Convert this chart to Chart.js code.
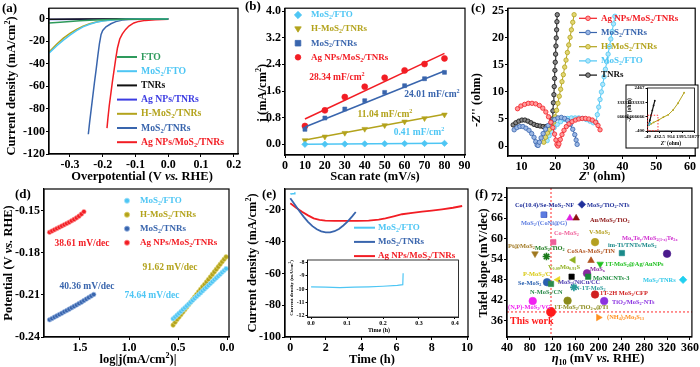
<!DOCTYPE html>
<html>
<head>
<meta charset="utf-8">
<script src="https://cdn.jsdelivr.net/npm/chart.js@4.4.1/dist/chart.umd.min.js"></script>
<style>
  html, body { margin: 0; padding: 0; background: #fff; }
  #page { position: relative; width: 700px; height: 367px; overflow: hidden; background: #fff; }
  #page canvas { position: absolute; left: 0; top: 0; }
</style>
</head>
<body>
<div id="page">
  <canvas id="chartA" width="700" height="367"></canvas>
  <canvas id="chartB" width="700" height="367"></canvas>
  <canvas id="chartC" width="700" height="367"></canvas>
  <canvas id="chartD" width="700" height="367"></canvas>
  <canvas id="chartE" width="700" height="367"></canvas>
  <canvas id="chartF" width="700" height="367"></canvas>
  <canvas id="insetC" width="700" height="367"></canvas>
  <canvas id="insetE" width="700" height="367"></canvas>
</div>
<script>
// ---------- (a) LSV curves: [overpotential (V), current density (mA/cm2)]
const lsvFto = [[-0.364,-3.9],[-0.33,-3.1],[-0.30,-2.4],[-0.27,-1.8],[-0.24,-1.3],[-0.20,-0.9],[-0.15,-0.6],[-0.10,-0.4],[-0.05,-0.3],[0,-0.2]];
const lsvMosFto = [[-0.364,-30.5],[-0.34,-24],[-0.32,-19],[-0.30,-14.5],[-0.28,-10.5],[-0.26,-7.3],[-0.24,-5],[-0.22,-3.2],[-0.20,-2],[-0.17,-1.1],[-0.13,-0.6],[-0.08,-0.3],[0,-0.1]];
const lsvTnrs = [[-0.364,-0.4],[-0.25,-0.3],[-0.10,-0.2],[0,-0.1]];
const lsvAgTnrs = [[-0.364,-0.7],[-0.25,-0.5],[-0.10,-0.3],[0,-0.2]];
const lsvHMos = [[-0.364,-29.5],[-0.34,-22.5],[-0.32,-17.3],[-0.30,-13],[-0.28,-9.5],[-0.26,-6.6],[-0.24,-4.5],[-0.22,-3],[-0.20,-1.9],[-0.17,-1.0],[-0.13,-0.5],[-0.08,-0.3],[0,-0.1]];
const lsvMosTnrs = [[0,-0.3],[-0.08,-0.5],[-0.12,-0.8],[-0.14,-1.1],[-0.16,-2.6],[-0.175,-4.5],[-0.19,-7.2],[-0.20,-10.5],[-0.205,-14],[-0.21,-22],[-0.215,-33],[-0.22,-45],[-0.225,-56],[-0.23,-68],[-0.235,-80],[-0.24,-92],[-0.244,-102.5]];
const lsvAgMosTnrs = [[0,-0.6],[-0.04,-0.9],[-0.07,-1.5],[-0.09,-2.4],[-0.105,-3.8],[-0.12,-6.5],[-0.13,-9.5],[-0.14,-13.5],[-0.148,-18],[-0.155,-26],[-0.16,-35],[-0.165,-45],[-0.17,-55],[-0.175,-66],[-0.18,-77],[-0.184,-88],[-0.187,-97]];

// ---------- (b) double-layer capacitance
const scanRates = [10, 20, 30, 40, 50, 60, 70, 80];
const jMosFto = [0.00, 0.005, 0.01, 0.014, 0.018, 0.022, 0.026, 0.03];
const jHMos = [0.12, 0.23, 0.34, 0.46, 0.57, 0.68, 0.78, 0.89];
const jMosTnrs = [0.45, 0.79, 1.06, 1.31, 1.56, 1.76, 1.97, 2.16];
const jAgMosTnrs = [0.55, 1.02, 1.42, 1.73, 2.00, 2.22, 2.41, 2.58];
const fitRates = [10, 80];
const fitMosFto = [0.002, 0.031];
const fitHMos = [0.13, 0.90];
const fitMosTnrs = [0.52, 2.20];
const fitAgMosTnrs = [0.76, 2.73];
const cdlLabels = ['28.34 mF/cm^{2}', '24.01 mF/cm^{2}', '11.04 mF/cm^{2}', '0.41 mF/cm^{2}'];

// ---------- (c) Nyquist plots: [Z' (ohm), -Z'' (ohm)]
const eisAg = [[8.8,6.9],[9.8,7.4],[10.9,7.7],[12.0,7.9],[13.1,7.9],[14.2,7.8],[15.3,7.5],[16.3,7.0],[17.2,6.3],[18.0,5.4],[18.7,4.4],[19.3,3.4],[19.8,2.2],[20.2,1.1],[20.5,0.3],[20.8,0.0],[21.1,0.4],[21.5,1.2],[22.0,2.1],[22.6,2.9],[23.3,3.6],[24.1,4.1],[25.0,4.5],[26.0,4.8],[27.0,5.0],[28.0,5.1],[29.0,5.1],[30.0,5.0],[31.0,4.8],[32.0,4.4],[32.7,3.8],[33.3,3.0]];
const eisMos = [[7.8,3.0],[8.6,3.4],[9.5,3.6],[10.4,3.6],[11.3,3.3],[12.2,2.9],[13.0,2.3],[13.7,1.6],[14.2,0.8],[14.6,0.2],[14.9,0.1],[15.3,0.7],[15.8,1.5],[16.4,2.3],[17.1,3.1],[17.9,3.8],[18.8,4.4],[19.8,4.9],[20.8,5.2],[21.8,5.3],[22.8,5.1],[23.7,4.7],[24.5,4.0],[25.2,3.1],[25.8,2.1],[26.2,1.1],[26.5,0.3]];
const eisHMos = [[16.6,0.7],[17.1,1.6],[17.7,2.4],[18.3,3.1],[18.9,3.7],[19.5,4.4],[20.0,5.4],[20.4,6.6],[20.8,7.9],[21.2,9.2],[21.6,10.5],[22.0,11.9],[22.4,13.2],[22.8,14.6],[23.2,15.9],[23.6,17.3],[24.0,18.7],[24.4,20.1],[24.8,21.5],[25.2,22.9],[25.6,24.3]];
const eisMosFto = [[17.6,1.0],[18.2,1.9],[18.9,2.7],[19.7,3.4],[20.6,4.0],[21.6,4.5],[22.6,4.9],[23.7,5.1],[24.8,5.2],[25.9,5.2],[27.0,5.2],[28.1,5.1],[29.2,4.9],[30.3,4.6],[31.3,4.3],[32.1,4.4],[32.5,5.8],[32.9,7.2],[33.3,8.6],[33.7,10.0],[34.1,11.4],[34.5,12.8],[34.9,14.2],[35.3,15.6],[35.7,17.0],[36.1,18.4],[36.5,19.8],[36.9,21.2],[37.3,22.6],[37.7,24.0]];
const eisTnrs = [[7.5,3.9],[8.3,4.3],[9.2,4.6],[10.1,4.8],[11.0,4.8],[11.9,4.6],[12.8,4.3],[13.7,4.0],[14.6,3.8],[15.5,3.7],[16.4,3.6],[17.3,3.6],[18.2,3.6],[18.8,3.9],[19.1,5.0],[19.3,6.5],[19.45,8.0],[19.6,9.5],[19.7,11.0],[19.8,12.5],[19.9,14.0],[20.0,15.5],[20.1,17.0],[20.2,18.5],[20.3,20.0],[20.4,21.5],[20.5,23.0],[20.6,24.3]];
// inset of (c), wide range
const eisWideTnrs = [[0,0],[50,330],[100,650],[150,980],[200,1300],[250,1620]];
const eisWideHMos = [[0,0],[100,80],[200,170],[400,330],[600,520],[800,680],[1000,1000],[1200,1450],[1450,2150]];
const eisWideMosFto = [[0,0],[20,40],[40,90],[60,160]];

// ---------- (d) Tafel plots: log|j| and potential (V vs. RHE)
const tafAgX = [1.81,1.785,1.76,1.735,1.71,1.685,1.66,1.635,1.61,1.585,1.56,1.535,1.51,1.485,1.46];
const tafAgY = [-0.1652,-0.1643,-0.1634,-0.1625,-0.1616,-0.1607,-0.1598,-0.1589,-0.1580,-0.1570,-0.1560,-0.1549,-0.1537,-0.1522,-0.1505];
const tafMosX = [1.81,1.785,1.76,1.735,1.71,1.685,1.66,1.635,1.61,1.585,1.56,1.535,1.51,1.485,1.46,1.435,1.41,1.385,1.36];
const tafMosY = [-0.2277,-0.2268,-0.2258,-0.2249,-0.2239,-0.2230,-0.2220,-0.2211,-0.2201,-0.2191,-0.2181,-0.2171,-0.2161,-0.2151,-0.2140,-0.2129,-0.2118,-0.2107,-0.2096];
const tafLowX = [0.55,0.53,0.51,0.49,0.47,0.45,0.43,0.41,0.39,0.37,0.35,0.33,0.31,0.29,0.27,0.25,0.23,0.21,0.19,0.17,0.15,0.13,0.11,0.09,0.07,0.05,0.03,0.01];
const tafHMosY = [-0.2315,-0.2295,-0.2275,-0.2258,-0.2240,-0.2222,-0.2204,-0.2186,-0.2168,-0.2150,-0.2132,-0.2114,-0.2096,-0.2078,-0.2060,-0.2042,-0.2025,-0.2007,-0.1989,-0.1971,-0.1953,-0.1935,-0.1917,-0.1899,-0.1881,-0.1863,-0.1845,-0.1828];
const tafFtoY = [-0.2270,-0.2257,-0.2244,-0.2231,-0.2218,-0.2204,-0.2191,-0.2178,-0.2164,-0.2151,-0.2138,-0.2124,-0.2111,-0.2098,-0.2085,-0.2071,-0.2058,-0.2045,-0.2031,-0.2018,-0.2005,-0.1991,-0.1978,-0.1965,-0.1952,-0.1938,-0.1925,-0.1912];
const tafLabels = ['38.61 mV/dec', '91.62 mV/dec', '40.36 mV/dec', '74.64 mV/dec'];

// ---------- (e) stability: time (h), current density (mA/cm2)
const stabFtoT = [0, 0.04, 0.08, 0.12, 0.16, 0.20, 0.24, 0.255, 0.256];
const stabFtoJ = [-9.82, -9.84, -9.88, -9.85, -9.82, -9.78, -9.72, -9.66, -8.8];
const stabMosT = [0, 0.25, 0.5, 0.75, 1.0, 1.25, 1.5, 1.75, 2.0, 2.25, 2.5, 2.75, 3.0, 3.25, 3.5, 3.7];
const stabMosJ = [-12.6, -16.5, -20.5, -24.2, -27.5, -30.2, -32.2, -33.5, -34.1, -34.1, -33.4, -32.0, -29.8, -27.2, -24.0, -21.3];
const stabAgT = [0, 0.33, 0.66, 1.0, 1.32, 1.65, 1.98, 2.5, 3.1, 3.8, 4.43, 5.0, 5.38, 5.85, 6.32, 6.9, 7.45, 8.0, 8.58, 9.2, 9.72];
const stabAgJ = [-15.8, -18.6, -21.1, -23.4, -25.3, -26.2, -26.7, -26.9, -26.9, -26.9, -26.7, -26.1, -25.3, -24.0, -22.7, -21.8, -21.1, -20.4, -19.6, -18.6, -17.5];

// ---------- (f) literature comparison: eta10 (mV) and Tafel slope (mV/dec)
const refNames = ['Co(10.4)/Se-MoS_{2}-NF','MoS_{2}/(CoNi@G)','MoS_{2}/TiO_{2}-NTs','','Au/MoS_{2}/TiO_{2}','Co-MoS_{2}','V-MoS_{2}','Mo_{x}Te_{y}/MoS_{2(1-x)}Te_{2x}','im-Ti/TNTs/MoS_{2}','Pt@MoS_{2}','MoS_{2}/TiO_{2}','CoSAs-MoS_{2}/TiN','V_{0.09}Mo_{0.91}S','1T-MoS_{2}@Ag/AuNPs','MoS_{x}','MoNiCNTs-3','P-MoS_{2}/C','MoS_{2}/NiCu/CC','Se-MoS_{2}','N-MoS_{2}/CN','N-1T-MoS_{2}','MoS_{2}/TNRs','1T-2H MoS_{2}/CFP','TiO_{2}/MoS_{2}-NTs','(N,P)-MoS_{2}/VG','1T-MoS_{2}/TiO_{2-x}@Ti','This work','(NH_{4})_{2}Mo_{3}S_{13}'];
const refEta = [105, 104, 171, 150, 161, 121, 194, 320, 241, 89, 109, 187, 156, 203, 180, 182, 129, 153, 110, 117, 157, 348, 194, 210, 85, 146, 117, 200];
const refTafel = [67, 67, 70, 66, 66, 59, 59, 55.6, 55.8, 55.6, 54.8, 53.6, 53.8, 52.6, 49.9, 48.9, 48, 48.9, 47.3, 46.8, 45.8, 48, 43.7, 41.8, 41.8, 41.9, 38.61, 37];
const thisWork = { eta: 117, tafel: 38.61 };

// ---------- styling
const FONT = '"Liberation Serif", "Times New Roman", serif';
const W = 700, H = 367;
const C = { red: '#f21d24', blue: '#3965ad', olive: '#b3a31c', cyan: '#4ec6f4', green: '#2e9a5c', black: '#111111', violet: '#3c3ce2' };
const LIGHT = { red: '#ff9a9a', blue: '#9cb8e4', olive: '#e2d674', cyan: '#b0e6fa', black: '#888888' };

const refStyle = ['rect','rect','rectRot','triangle','triangle','rect','circle','circle','rect','triangle','star','triangle','triangle','triangle','circle','rect','triangle','rect','circle','rect','star','rectRot','circle','circle','circle','circle','circle','triangle'];
const refRot = [0,0,0,0,0,0,0,0,0,180,0,0,270,180,0,0,270,0,0,0,0,0,0,0,0,0,0,90];
const refColor = ['#1f2f9a','#5b7be0','#1f2f9a','#e020e0','#8b1010','#f0609a','#b5a020','#4a1a8c','#1a8a8a','#a07820','#1a7a1a','#b0521d','#90b020','#20c020','#8a2aa0','#1a8a3a','#e8d820','#000000','#2a60b0','#2a8a4a','#2a9a9a','#20d0f0','#d02020','#8a30e0','#f020f0','#8a8a1a','#ff1a1a','#ff9020'];
const refLabelColor = ['#1f2f9a','#5b7be0','#1f2f9a','','#8b1010','#f0609a','#b5a020','#d030d0','#1a8a8a','#a07820','#1a7a1a','#b0521d','#90b020','#20c020','#8a2aa0','#1a8a3a','#d8c810','#4a3ab0','#2a60b0','#2a8a4a','#2a9a9a','#30c8e8','#d02020','#8a30e0','#f020f0','#8a8a1a','#ff1a1a','#ff9020'];
const refLabelAt = [[515,205],[521,223.5],[587,205],null,[590,220.5],[554,233.5],[589,232.5],[622,238],[608,245],[508,246.5],[535,248.5],[567,251],[548,267.5],[605,264.5],[590,269.5],[593,278],[523,274],[558,282.5],[518,283.5],[530,292.5],[575,288],[643,280],[600,293.5],[612,302.5],[508,307.5],[554,307.5],[510,321],[607,317]];

// ---------- helpers
const pairs = arr => arr.map(([x, y]) => ({ x, y }));
const xy = (xs, ys) => xs.map((x, i) => ({ x, y: ys[i] }));
const zero = v => (Math.abs(v) < 1e-9 ? 0 : v);
const fix = n => v => zero(v).toFixed(n);

// tiny markup: _{sub} ^{sup} ~italic~
function parse(s) {
  const out = []; let buf = '', italic = false, i = 0;
  const push = (t, mode) => { if (t) out.push({ t, mode, it: italic }); };
  while (i < s.length) {
    const c = s[i];
    if ((c === '_' || c === '^') && s[i + 1] === '{') {
      push(buf, 0); buf = '';
      const j = s.indexOf('}', i);
      push(s.slice(i + 2, j), c === '_' ? 1 : 2);
      i = j + 1;
    } else if (c === '~') { push(buf, 0); buf = ''; italic = !italic; i++; }
    else { buf += c; i++; }
  }
  push(buf, 0);
  return out;
}

function rich(ctx, s, x, y, size, color, align = 'left', rot = 0) {
  const parts = parse(s);
  const fontOf = p => `${p.it ? 'italic ' : ''}bold ${p.mode ? size * 0.65 : size}px ${FONT}`;
  let w = 0;
  parts.forEach(p => { ctx.font = fontOf(p); p.w = ctx.measureText(p.t).width; w += p.w; });
  ctx.save();
  ctx.translate(x, y); ctx.rotate(rot);
  ctx.fillStyle = color; ctx.textBaseline = 'middle'; ctx.textAlign = 'left';
  let cx = align === 'center' ? -w / 2 : align === 'right' ? -w : 0;
  parts.forEach(p => {
    ctx.font = fontOf(p);
    ctx.fillText(p.t, cx, p.mode === 1 ? size * 0.3 : p.mode === 2 ? -size * 0.35 : 0);
    cx += p.w;
  });
  ctx.restore();
}

function mark(ctx, style, x, y, r, fill, stroke) {
  ctx.save();
  ctx.fillStyle = fill; ctx.strokeStyle = stroke; ctx.lineWidth = 0.8;
  ctx.beginPath();
  if (style === 'rect') ctx.rect(x - r, y - r, 2 * r, 2 * r);
  else if (style === 'rectRot') { ctx.moveTo(x, y - r * 1.3); ctx.lineTo(x + r * 1.3, y); ctx.lineTo(x, y + r * 1.3); ctx.lineTo(x - r * 1.3, y); ctx.closePath(); }
  else if (style === 'tridown') { ctx.moveTo(x - r * 1.15, y - r * 0.8); ctx.lineTo(x + r * 1.15, y - r * 0.8); ctx.lineTo(x, y + r * 1.1); ctx.closePath(); }
  else ctx.arc(x, y, r, 0, Math.PI * 2);
  ctx.fill(); ctx.stroke();
  ctx.restore();
}

function seg(ctx, x0, x1, y, color, w) {
  ctx.save(); ctx.strokeStyle = color; ctx.lineWidth = w;
  ctx.beginPath(); ctx.moveTo(x0, y); ctx.lineTo(x1, y); ctx.stroke(); ctx.restore();
}

function axis(o, dir, size) {
  return {
    type: 'linear', min: o.min, max: o.max, reverse: !!o.reverse,
    position: dir === 'x' ? 'bottom' : 'left',
    afterFit: s => { if (dir === 'x') s.height = size; else s.width = size; },
    grid: { display: true, drawOnChartArea: false, drawTicks: true, tickLength: o.tl || 3, color: '#000', lineWidth: 1 },
    border: { display: true, color: '#000', width: o.bw || 1.2 },
    ticks: {
      stepSize: o.step, includeBounds: false, autoSkip: false, maxRotation: 0,
      color: '#000', padding: o.pad ?? 1,
      font: { family: FONT, size: o.fs || 12, weight: 'bold' },
      callback: o.fmt || (v => zero(v))
    }
  };
}

function makePanel(id, box, xo, yo, datasets, deco, pre) {
  const yW = 30, xH = 20;
  return new Chart(document.getElementById(id), {
    type: 'scatter',
    data: { datasets },
    options: {
      responsive: false, animation: false, devicePixelRatio: 1,
      layout: { padding: { left: box.l - yW, top: box.t, right: W - box.r, bottom: H - box.b - xH } },
      plugins: { legend: { display: false }, tooltip: { enabled: false } },
      scales: { x: axis(xo, 'x', xH), y: axis(yo, 'y', yW) }
    },
    plugins: [{
      id: 'deco',
      beforeDatasetsDraw: c => { if (pre) pre(c.ctx, c); },
      afterDraw: c => {
        const a = c.chartArea, ctx = c.ctx;
        ctx.save(); ctx.strokeStyle = '#000'; ctx.lineWidth = xo.bw || 1.2;
        ctx.strokeRect(a.left, a.top, a.right - a.left, a.bottom - a.top);
        ctx.restore();
        if (deco) deco(ctx, c);
      }
    }]
  });
}

const line = (pts, color, w = 1.5) => ({ data: pts, showLine: true, borderColor: color, borderWidth: w, pointRadius: 0, tension: 0 });
const dots = (pts, color, style, r = 3, rot = 0) => ({ data: pts, showLine: false, pointStyle: style, pointRotation: rot, pointRadius: r, pointBackgroundColor: color, pointBorderColor: color, pointBorderWidth: 0.6 });
const nyq = (pts, color, light) => ({ data: pts, showLine: true, borderColor: color, borderWidth: 1, pointRadius: 2.2, pointBackgroundColor: light, pointBorderColor: color, pointBorderWidth: 0.8 });
const balls = (pts, color, light) => ({ data: pts, showLine: false, pointRadius: 2.3, pointBackgroundColor: color, pointBorderColor: light, pointBorderWidth: 0.6 });

// ---------- (a)
makePanel('chartA', { l: 49, t: 5, r: 238, b: 154 },
  { min: -0.364, max: 0.213, step: 0.1, fmt: fix(1) },
  { min: -120, max: 9.3, step: 20 },
  [
    line(pairs(lsvFto), C.green), line(pairs(lsvMosFto), C.cyan), line(pairs(lsvTnrs), C.black),
    line(pairs(lsvAgTnrs), C.violet), line(pairs(lsvHMos), C.olive), line(pairs(lsvMosTnrs), C.blue),
    line(pairs(lsvAgMosTnrs), C.red)
  ],
  ctx => {
    rich(ctx, '(a)', 2, 9, 13, '#000');
    rich(ctx, 'Current density (mA/cm^{2})', 12, 86, 12.5, '#000', 'center', -Math.PI / 2);
    rich(ctx, 'Overpotential (V ~vs.~ RHE)', 142, 177, 12.5, '#000', 'center');
    const items = [['FTO', C.green], ['MoS_{2}/FTO', C.cyan], ['TNRs', C.black], ['Ag NPs/TNRs', C.violet],
      ['H-MoS_{2}/TNRs', C.olive], ['MoS_{2}/TNRs', C.blue], ['Ag NPs/MoS_{2}/TNRs', C.red]];
    items.forEach(([t, col], i) => {
      const y = 57 + i * 14.2;
      seg(ctx, 117, 137, y, col, 2);
      rich(ctx, t, 141, y, 9.7, col);
    });
  });

// ---------- (b)
makePanel('chartB', { l: 285, t: 3, r: 465, b: 155 },
  { min: 0, max: 90.3, step: 10 },
  { min: -0.32, max: 4.087, step: 0.8, fmt: fix(1) },
  [
    dots(xy(scanRates, jMosFto), C.cyan, 'rectRot', 3.2), line(xy(fitRates, fitMosFto), C.cyan),
    dots(xy(scanRates, jHMos), C.olive, 'triangle', 3.2, 180), line(xy(fitRates, fitHMos), C.olive),
    dots(xy(scanRates, jMosTnrs), C.blue, 'rect', 2.8), line(xy(fitRates, fitMosTnrs), C.blue),
    dots(xy(scanRates, jAgMosTnrs), C.red, 'circle', 3), line(xy(fitRates, fitAgMosTnrs), C.red)
  ],
  ctx => {
    rich(ctx, '(b)', 245, 7, 13, '#000');
    rich(ctx, 'j (mA/cm^{2})', 263, 93, 12.5, '#000', 'center', -Math.PI / 2);
    rich(ctx, 'Scan rate (mV/s)', 375, 177, 12.5, '#000', 'center');
    const items = [['MoS_{2}/FTO', C.cyan, 'rectRot'], ['H-MoS_{2}/TNRs', C.olive, 'tridown'],
      ['MoS_{2}/TNRs', C.blue, 'rect'], ['Ag NPs/MoS_{2}/TNRs', C.red, 'circle']];
    items.forEach(([t, col, st], i) => {
      const y = 15 + i * 14.1;
      mark(ctx, st, 298, y, 2.8, col, col);
      rich(ctx, t, 311, y, 9, col);
    });
    const pos = [[337, 78, C.red], [432, 95, C.blue], [385, 115, C.olive], [419, 133, C.cyan]];
    cdlLabels.forEach((t, i) => rich(ctx, t, pos[i][0], pos[i][1], 9.5, pos[i][2], 'center'));
  });

// ---------- (c)
makePanel('chartC', { l: 508, t: 3, r: 697, b: 156 },
  { min: 5.97, max: 61.56, step: 10 },
  { min: -1.85, max: 25.5, step: 5 },
  [
    nyq(pairs(eisAg), C.red, LIGHT.red), nyq(pairs(eisMos), C.blue, LIGHT.blue),
    nyq(pairs(eisHMos), C.olive, LIGHT.olive), nyq(pairs(eisMosFto), C.cyan, LIGHT.cyan),
    nyq(pairs(eisTnrs), C.black, LIGHT.black)
  ],
  ctx => {
    rich(ctx, '(c)', 471, 9, 13, '#000');
    rich(ctx, "-~Z~'' (ohm)", 477, 100, 12.5, '#000', 'center', -Math.PI / 2);
    rich(ctx, "~Z~' (ohm)", 602, 177, 12.5, '#000', 'center');
    const items = [['Ag NPs/MoS_{2}/TNRs', 'red'], ['MoS_{2}/TNRs', 'blue'], ['H-MoS_{2}/TNRs', 'olive'],
      ['MoS_{2}/FTO', 'cyan'], ['TNRs', 'black']];
    items.forEach(([t, k], i) => {
      const y = 18.3 + i * 14.2;
      seg(ctx, 579, 597, y, C[k], 1.2);
      mark(ctx, 'circle', 588, y, 2.3, LIGHT[k], C[k]);
      rich(ctx, t, 601, y, 9, C[k]);
    });
    ctx.save(); ctx.fillStyle = '#fff'; ctx.fillRect(626, 85, 72, 63);
    ctx.strokeStyle = '#000'; ctx.lineWidth = 1; ctx.strokeRect(626, 85, 72, 63); ctx.restore();
  });

// ---------- (d)
makePanel('chartD', { l: 44, t: 189, r: 229, b: 337 },
  { min: -0.02, max: 1.867, step: 0.5, reverse: true, fmt: fix(1) },
  { min: -0.24, max: -0.1343, step: 0.03, fmt: fix(2) },
  [
    balls(xy(tafLowX, tafFtoY), C.cyan, LIGHT.cyan), balls(xy(tafLowX, tafHMosY), C.olive, LIGHT.olive),
    balls(xy(tafMosX, tafMosY), C.blue, LIGHT.blue), balls(xy(tafAgX, tafAgY), C.red, LIGHT.red)
  ],
  ctx => {
    rich(ctx, '(d)', 15, 195, 13, '#000');
    rich(ctx, 'Potential (V ~vs.~ RHE)', 8.5, 263, 12.5, '#000', 'center', -Math.PI / 2);
    rich(ctx, 'log|j(mA/cm^{2})|', 138, 360, 12.5, '#000', 'center');
    const items = [['MoS_{2}/FTO', 'cyan'], ['H-MoS_{2}/TNRs', 'olive'], ['MoS_{2}/TNRs', 'blue'], ['Ag NPs/MoS_{2}/TNRs', 'red']];
    items.forEach(([t, k], i) => {
      const y = 200.7 + i * 14;
      mark(ctx, 'circle', 127, y, 2.6, C[k], LIGHT[k]);
      rich(ctx, t, 140, y, 9, C[k]);
    });
    const pos = [[82, 244, C.red], [170, 268, C.olive], [87, 287, C.blue], [152, 296, C.cyan]];
    tafLabels.forEach((t, i) => rich(ctx, t, pos[i][0], pos[i][1], 9.5, pos[i][2], 'center'));
  });

// ---------- (e)
makePanel('chartE', { l: 285, t: 189, r: 468, b: 337 },
  { min: -0.3, max: 10.05, step: 2 },
  { min: -100, max: -6.8, step: 20 },
  [
    line(xy(stabFtoT, stabFtoJ), C.cyan, 1.5), line(xy(stabMosT, stabMosJ), C.blue, 1.8),
    line(xy(stabAgT, stabAgJ), C.red, 1.8)
  ],
  ctx => {
    rich(ctx, '(e)', 262, 195, 13, '#000');
    rich(ctx, 'Current density (mA/cm^{2})', 253, 263, 12.5, '#000', 'center', -Math.PI / 2);
    rich(ctx, 'Time (h)', 372, 360, 12.5, '#000', 'center');
    const items = [['MoS_{2}/FTO', C.cyan], ['MoS_{2}/TNRs', C.blue], ['Ag NPs/MoS_{2}/TNRs', C.red]];
    items.forEach(([t, col], i) => {
      const y = 227.7 + i * 14.2;
      seg(ctx, 354, 375, y, col, 2);
      rich(ctx, t, 378, y, 9, col);
    });
  });

// ---------- (f)
makePanel('chartF', { l: 507, t: 188, r: 692, b: 337 },
  { min: 40, max: 363.5, step: 40 },
  { min: 31.3, max: 74.8, step: 6 },
  [{
    data: xy(refEta, refTafel), showLine: false,
    pointStyle: refStyle, pointRotation: refRot,
    pointRadius: refNames.map(n => (n === 'This work' ? 4.6 : 3.8)),
    pointBackgroundColor: refColor, pointBorderColor: refColor,
    pointBorderWidth: refStyle.map(s => (s === 'star' ? 1.6 : 0.6))
  }],
  ctx => {
    rich(ctx, '(f)', 475, 195, 13, '#000');
    rich(ctx, 'Tafel slope (mV/dec)', 484, 263, 12.5, '#000', 'center', -Math.PI / 2);
    rich(ctx, '~η~_{10} (mV ~vs.~ RHE)', 598, 359, 12.5, '#000', 'center');
    refNames.forEach((n, i) => {
      if (!n || !refLabelAt[i]) return;
      const big = n === 'This work';
      rich(ctx, n, refLabelAt[i][0], refLabelAt[i][1], big ? 10 : 6.4, refLabelColor[i]);
    });
  },
  (ctx, c) => {
    const a = c.chartArea, sx = c.scales.x, sy = c.scales.y;
    const px = sx.getPixelForValue(thisWork.eta), py = sy.getPixelForValue(thisWork.tafel);
    ctx.save(); ctx.strokeStyle = '#ff2a2a'; ctx.lineWidth = 1; ctx.setLineDash([2, 2]);
    ctx.beginPath(); ctx.moveTo(px, a.top); ctx.lineTo(px, a.bottom);
    ctx.moveTo(a.left, py); ctx.lineTo(a.right, py); ctx.stroke(); ctx.restore();
  });

// ---------- inset of (c)
makePanel('insetC', { l: 647.5, t: 88, r: 695, b: 131 },
  { min: -49, max: 1877, step: 500, fs: 5, tl: 2, pad: 0.5, bw: 0.8 },
  { min: -400, max: 2467, step: 1000, fs: 5, tl: 2, pad: 1, bw: 0.8 },
  [
    { data: pairs(eisWideMosFto), showLine: true, borderColor: C.cyan, borderWidth: 1, pointRadius: 0.8, pointBackgroundColor: C.cyan, pointBorderWidth: 0 },
    { data: pairs(eisWideHMos), showLine: true, borderColor: C.olive, borderWidth: 1, pointRadius: 0.9, pointBackgroundColor: C.olive, pointBorderWidth: 0 },
    { data: pairs(eisWideTnrs), showLine: true, borderColor: C.black, borderWidth: 1.2, pointRadius: 0.9, pointBackgroundColor: C.black, pointBorderWidth: 0 }
  ],
  (ctx, c) => {
    rich(ctx, "-~Z~'' (ohm)", 630, 110, 5.5, '#000', 'center', -Math.PI / 2);
    rich(ctx, "~Z~' (ohm)", 671, 144, 5.5, '#000', 'center');
    const sx = c.scales.x, sy = c.scales.y;
    const x0 = sx.getPixelForValue(-40), x1 = sx.getPixelForValue(380);
    const y0 = sy.getPixelForValue(650), y1 = sy.getPixelForValue(-380);
    ctx.save(); ctx.strokeStyle = '#ff2a2a'; ctx.lineWidth = 0.9; ctx.setLineDash([1.5, 1.5]);
    ctx.strokeRect(x0, y0, x1 - x0, y1 - y0); ctx.restore();
  });

// ---------- inset of (e)
makePanel('insetE', { l: 307.5, t: 260, r: 458.5, b: 317 },
  { min: -0.01, max: 0.41, step: 0.1, fs: 6, tl: 2, pad: 1, bw: 0.8, fmt: fix(1) },
  { min: -12.1, max: -7.8, step: 1, fs: 6, tl: 2, pad: 1, bw: 0.8 },
  [line(xy(stabFtoT, stabFtoJ), C.cyan, 1.2)],
  ctx => {
    rich(ctx, 'Current density (mA/cm^{2})', 292, 288, 5, '#000', 'center', -Math.PI / 2);
    rich(ctx, 'Time (h)', 379, 330, 6, '#000', 'center');
  });
</script>
</body>
</html>
